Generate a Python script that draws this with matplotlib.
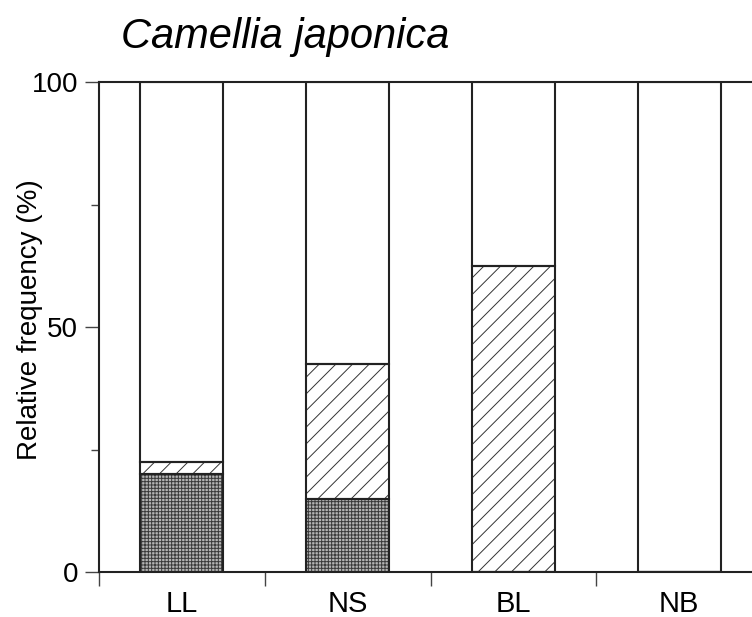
import numpy as np
import matplotlib
matplotlib.use("Agg")
import matplotlib.pyplot as plt
from matplotlib.ticker import MultipleLocator

plt.rcParams['font.family'] = ['Liberation Sans', 'DejaVu Sans']
plt.rcParams['hatch.linewidth'] = 0.7

categories = ["LL", "NS", "BL", "NB"]
dark = [20, 15, 0, 0]        # dotted bottom segment
hatched = [2.5, 27.5, 62.5, 0]  # diagonal-hatched middle segment
white = [100 - d - h for d, h in zip(dark, hatched)]

fig = plt.figure(figsize=(7.52, 6.17), dpi=100)
# right side of the axes runs past the picture edge, as in the original
ax = fig.add_axes([99 / 752, 1 - 572 / 617, (762 - 99) / 752, 490 / 617])

x = np.arange(len(categories))
w = 0.5

# fills (hatch colour comes from edgecolor, so draw fills and outlines separately)
ax.bar(x, dark, w, color="#b4b4b4", edgecolor="#3a3a3a", hatch="+++++", linewidth=0)
ax.bar(x, hatched, w, bottom=dark, color="white", edgecolor="#333333", hatch="//", linewidth=0)
b2 = np.array(dark) + np.array(hatched)
ax.bar(x, white, w, bottom=b2, color="white", linewidth=0)

# outlines
for seg, bot in [(dark, np.zeros(4)), (hatched, np.array(dark)), (white, b2)]:
    ax.bar(x, seg, w, bottom=bot, fill=False, edgecolor="#222222", linewidth=1.5)

ax.set_xlim(-0.5, 3.5)
ax.set_ylim(0, 100)
ax.set_xticks(np.arange(-0.5, 4, 1))
ax.set_xticklabels([])
ax.set_xticks(x, minor=True)
ax.set_xticklabels(categories, minor=True, fontsize=21)
ax.tick_params(axis="x", which="minor", length=0, pad=13)
ax.tick_params(axis="x", which="major", length=10, width=1.0, direction="out", color="#444444")

ax.yaxis.set_major_locator(MultipleLocator(50))
ax.yaxis.set_minor_locator(MultipleLocator(25))
ax.tick_params(axis="y", which="major", length=10, width=1.0, labelsize=20, pad=5, color="#444444")
ax.tick_params(axis="y", which="minor", length=6, width=1.0, color="#444444")

for s in ax.spines.values():
    s.set_linewidth(1.5)
    s.set_color("#222222")

ax.set_ylabel("Relative frequency (%)", fontsize=20)
ax.yaxis.set_label_coords((43 - 99) / 663, (572 - 320) / 490)
fig.text(121 / 752, 1 - 37 / 617, "Camellia japonica", fontsize=30, style="italic",
         va="center", ha="left")

fig.savefig("out.png", dpi=100)
